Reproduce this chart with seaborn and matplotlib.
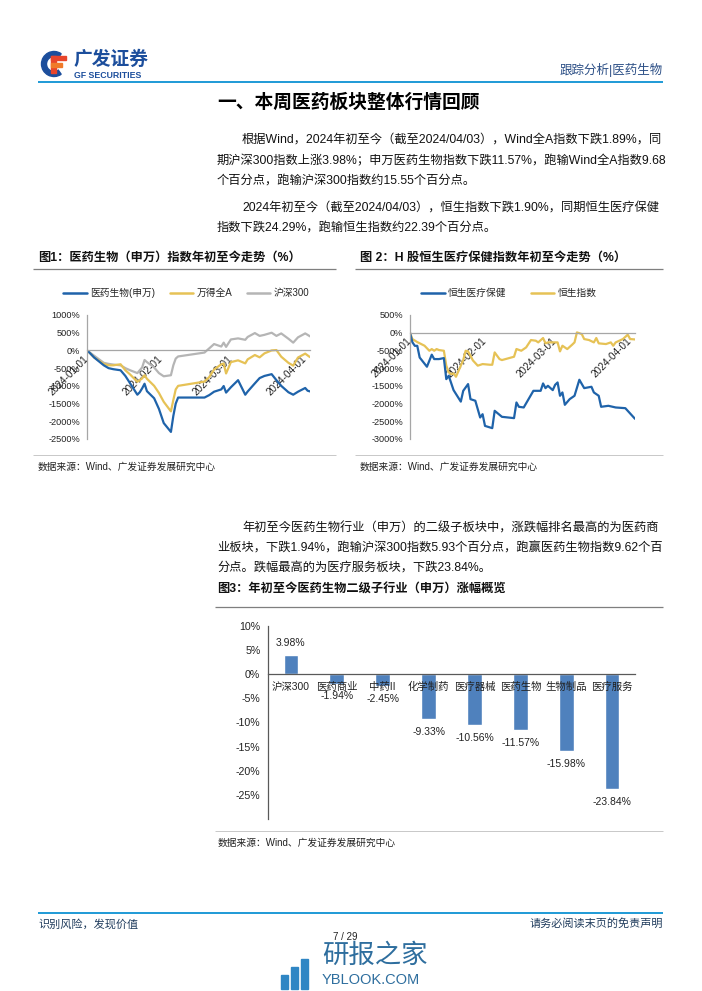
import numpy as np
import pandas as pd
import matplotlib
matplotlib.use("Agg")
import matplotlib.pyplot as plt
from matplotlib.lines import Line2D
from matplotlib.patches import Rectangle, Wedge
import seaborn as sns

sns.set_theme(style="white")
plt.rcParams['font.family'] = ['Liberation Sans', 'Noto Sans CJK SC', 'DejaVu Sans']
plt.rcParams['axes.unicode_minus'] = False

# ---------------- data ----------------
# Figure 1: A-share indices, YTD change (chart units as printed: 1000% == 10%)
dates1 = ["01-01", "01-02", "01-04", "01-08", "01-10", "01-12", "01-15", "01-17", "01-19",
          "01-22", "01-23", "01-24", "01-25", "01-26", "01-29", "01-31", "02-02", "02-05",
          "02-06", "02-07", "02-08", "02-19", "02-21", "02-23", "02-26", "02-27", "02-28",
          "03-01", "03-04", "03-07", "03-08", "03-11", "03-13", "03-15", "03-18", "03-20",
          "03-22", "03-25", "03-27", "03-29", "04-01", "04-02", "04-03"]
sw_med = [0, -60, -200, -420, -500, -530, -560, -720, -930, -1250, -1180, -1070, -940, -1150,
          -1350, -1650, -2050, -2300, -1850, -1500, -1330, -1330, -1260, -1165, -1100, -1005,
          -1190, -1040, -840, -1250, -1160, -930, -780, -720, -670, -840, -1000, -1180, -1250,
          -1165, -1060, -1137, -1157]
wind_a = [0, -60, -200, -380, -420, -420, -390, -560, -680, -885, -840, -790, -700, -800,
          -1000, -1200, -1450, -1720, -1400, -1100, -1000, -880, -750, -540, -390, -370, -650,
          -330, -280, -365, -252, -130, -195, -83, 0, 10, -177, -350, -430, -200, -90, -140,
          -189]
hs300 = [0, -50, -150, -350, -380, -400, -420, -500, -560, -640, -560, -480, -270, -330,
         -480, -640, -730, -700, -420, -230, -170, -60, 60, 180, 110, 220, 100, 310, 340, 300,
         380, 490, 410, 440, 500, 410, 480, 330, 220, 370, 480, 440, 398]
names1 = ["医药生物(申万)", "万得全A", "沪深300"]

# Figure 2: Hang Seng indices
dates2_hc = ["01-01", "01-02", "01-03", "01-04", "01-05", "01-08", "01-10", "01-11", "01-13",
             "01-15", "01-16", "01-17", "01-19", "01-22", "01-23", "01-25", "01-26", "01-28",
             "01-30", "01-31", "02-01", "02-04", "02-05", "02-08", "02-13", "02-14", "02-15",
             "02-17", "02-21", "02-24", "02-25", "02-26", "02-27", "02-29", "03-01", "03-02",
             "03-03", "03-04", "03-05", "03-07", "03-09", "03-11", "03-13", "03-16", "03-17",
             "03-19", "03-20", "03-23", "03-26", "03-30", "04-03"]
hs_health = [0, -270, -370, -370, -700, -960, -620, -744, -744, -716, -1310, -1215, -1620,
             -1945, -1640, -1450, -1875, -1920, -2393, -2300, -2630, -2694, -2204, -2374, -2411,
             -1969, -2091, -2110, -1640, -1640, -1432, -1564, -1498, -1620, -1470, -1404, -1780,
             -1686, -2035, -1875, -1780, -1328, -1564, -1526, -1686, -1780, -2091, -2063, -2110,
             -2130, -2430]
dates2_hsi = ["01-01", "01-02", "01-04", "01-07", "01-09", "01-10", "01-11", "01-12", "01-13",
              "01-15", "01-16", "01-17", "01-18", "01-19", "01-20", "01-22", "01-23", "01-24",
              "01-25", "01-26", "01-27", "01-29", "01-31", "02-03", "02-04", "02-05", "02-07",
              "02-08", "02-13", "02-14", "02-16", "02-18", "02-20", "02-22", "02-23", "02-25",
              "02-26", "02-27", "03-02", "03-03", "03-04", "03-06", "03-08", "03-09", "03-10",
              "03-12", "03-13", "03-15", "03-17", "03-18", "03-19", "03-22", "03-24", "03-25",
              "03-26", "03-29", "03-31", "04-01", "04-03"]
hsi = [0, -180, -264, -367, -509, -462, -509, -462, -490, -509, -930, -1118, -1168, -1150,
       -1243, -930, -772, -509, -528, -650, -782, -930, -885, -904, -904, -556, -744, -772,
       -678, -460, -509, -415, -207, -226, -273, -150, -300, -273, -273, -527, -367, -462,
       -339, -273, 9, -38, -179, -207, -273, -150, -300, -320, -273, -367, -273, -179, -56,
       -179, -190]
names2 = ["恒生医疗保健", "恒生指数"]

# Figure 3: SW sub-industries YTD change (%)
cats3 = ["沪深300", "医药商业", "中药II", "化学制药", "医疗器械", "医药生物", "生物制品", "医疗服务"]
vals3 = [3.98, -1.94, -2.45, -9.33, -10.56, -11.57, -15.98, -23.84]

date_ticks = ["2024-01-01", "2024-02-01", "2024-03-01", "2024-04-01"]

# ---------------- style ----------------
BLUE = "#1F63AA"
YELLOW = "#E6C256"
GRAY = "#B5B5B5"
BAR = "#4F81BD"
HEAD_BLUE = "#1E9AD6"
AXIS_GRAY = "#A6A6A6"

W, H = 702, 991
fig = plt.figure(figsize=(W / 100, H / 100), dpi=100)
fig.patch.set_facecolor("white")

# page canvas in pixel coordinates (for rules and logo shapes)
page = fig.add_axes([0, 0, 1, 1])
page.set_xlim(0, W)
page.set_ylim(H, 0)
page.axis("off")
page.set_zorder(-1)


def fx(x):
    return x / W


def fy(y):
    return 1 - y / H


def txt(x, y, s, **kw):
    kw.setdefault("va", "center")
    return fig.text(fx(x), fy(y), s, **kw)


def hline(x0, x1, y, color, lw):
    page.plot([x0, x1], [y, y], color=color, lw=lw, solid_capstyle="butt")


def add_ax(left, top, right, bottom):
    return fig.add_axes([fx(left), fy(bottom), (right - left) / W, (bottom - top) / H])


# ---------------- header ----------------
page.add_patch(Wedge((54, 64), 12.5, 55, 305, width=5, color="#1C4E9C"))
page.add_patch(Rectangle((51, 56), 4.5, 17, color="#E8452C"))
page.add_patch(Rectangle((51, 56), 15, 4, color="#E8452C"))
page.add_patch(Rectangle((51, 63), 11, 3.5, color="#F07A2A"))
txt(74, 59, "广发证券", fontsize=13.5, fontweight="bold", color="#1C4E9C",
    family=['Noto Sans CJK SC'])
txt(74, 75, "GF SECURITIES", fontsize=6.3, fontweight="bold", color="#1C4E9C")
txt(663, 70, "跟踪分析|医药生物", fontsize=9, color="#2C4F86", ha="right")
hline(38, 663, 82, HEAD_BLUE, 1.4)

# ---------------- body text ----------------
txt(217, 103, "一、本周医药板块整体行情回顾", fontsize=13.5, fontweight="bold", color="black")
BODY = dict(fontsize=8.8, color="#111111")
txt(242, 140, "根据Wind，2024年初至今（截至2024/04/03），Wind全A指数下跌1.89%，同", **BODY)
txt(217, 161, "期沪深300指数上涨3.98%；申万医药生物指数下跌11.57%，跑输Wind全A指数9.68", **BODY)
txt(217, 181, "个百分点，跑输沪深300指数约15.55个百分点。", **BODY)
txt(242, 208, "2024年初至今（截至2024/04/03），恒生指数下跌1.90%，同期恒生医疗保健", **BODY)
txt(217, 228, "指数下跌24.29%，跑输恒生指数约22.39个百分点。", **BODY)

txt(242, 528, "年初至今医药生物行业（申万）的二级子板块中，涨跌幅排名最高的为医药商", **BODY)
txt(217, 548, "业板块，下跌1.94%，跑输沪深300指数5.93个百分点，跑赢医药生物指数9.62个百", **BODY)
txt(217, 568, "分点。跌幅最高的为医疗服务板块，下跌23.84%。", **BODY)

# figure titles
TITLE = dict(fontsize=8.8, fontweight="bold", color="#111111")
txt(38, 258, "图1：医药生物（申万）指数年初至今走势（%）", **TITLE)
hline(33, 336, 269, "#7F7F7F", 0.9)
txt(360, 258, "图 2：H 股恒生医疗保健指数年初至今走势（%）", **TITLE)
hline(355, 663, 269, "#7F7F7F", 0.9)
txt(217, 590, "图3：年初至今医药生物二级子行业（申万）涨幅概览", **TITLE)
hline(215, 663, 607, "#7F7F7F", 0.9)

SRC = dict(fontsize=7, color="#222222")
hline(33, 336, 455, "#BFBFBF", 0.6)
hline(355, 663, 455, "#BFBFBF", 0.6)
txt(38, 467, "数据来源：Wind、广发证券发展研究中心", **SRC)
txt(360, 467, "数据来源：Wind、广发证券发展研究中心", **SRC)
hline(215, 663, 831, "#BFBFBF", 0.6)
txt(218, 843, "数据来源：Wind、广发证券发展研究中心", **SRC)


# ---------------- line charts ----------------
def style_line_ax(ax, ylo, yhi, step):
    # spine position must be set before ticks (it resets the tick objects)
    ax.spines["bottom"].set_position(("data", 0))
    for s in ["top", "right"]:
        ax.spines[s].set_visible(False)
    for s in ["bottom", "left"]:
        ax.spines[s].set_color(AXIS_GRAY)
        ax.spines[s].set_linewidth(0.9)
    ax.set_ylim(ylo, yhi)
    ax.set_xlim(pd.Timestamp("2024-01-01"), pd.Timestamp("2024-04-03"))
    ax.set_yticks(np.arange(ylo, yhi + 1, step))
    ax.set_yticklabels([f"{int(v)}%" for v in np.arange(ylo, yhi + 1, step)], fontsize=6.6)
    ax.set_xticks(pd.to_datetime(date_ticks))
    ax.set_xticklabels(date_ticks, fontsize=7.2, rotation=45, ha="right",
                       rotation_mode="anchor", va="center")
    ax.tick_params(axis="y", length=3, width=0.7, color=AXIS_GRAY, pad=2, direction="out",
                   labelcolor="#222222")
    ax.tick_params(axis="x", length=0, pad=5, labelcolor="#222222")
    ax.set_xlabel("")
    ax.set_ylabel("")
    ax.set_facecolor("none")


ax1 = add_ax(87, 315, 310, 439)
d1 = pd.to_datetime(["2024-" + d for d in dates1])
df1 = pd.DataFrame({"date": d1, names1[0]: sw_med, names1[1]: wind_a, names1[2]: hs300})
long1 = df1.melt("date", var_name="series", value_name="value")
sns.lineplot(data=long1, x="date", y="value", hue="series",
             hue_order=[names1[2], names1[1], names1[0]],
             palette=[GRAY, YELLOW, BLUE], lw=1.6, ax=ax1, legend=False)
style_line_ax(ax1, -2500, 1000, 500)
h1 = [Line2D([], [], color=c, lw=1.8) for c in [BLUE, YELLOW, GRAY]]
ax1.legend(h1, names1, loc="center", bbox_to_anchor=(0.445, 1.177), ncol=3, frameon=False,
           fontsize=7, handlelength=2.4, handletextpad=0.35, columnspacing=1.5)

ax2 = add_ax(410, 315, 635, 439)
df2a = pd.DataFrame({"date": pd.to_datetime(["2024-" + d for d in dates2_hc]),
                     "value": hs_health, "series": names2[0]})
df2b = pd.DataFrame({"date": pd.to_datetime(["2024-" + d for d in dates2_hsi]),
                     "value": hsi, "series": names2[1]})
long2 = pd.concat([df2b, df2a], ignore_index=True)
sns.lineplot(data=long2, x="date", y="value", hue="series",
             hue_order=[names2[1], names2[0]], palette=[YELLOW, BLUE], lw=1.6, ax=ax2,
             legend=False)
style_line_ax(ax2, -3000, 500, 500)
h2 = [Line2D([], [], color=c, lw=1.8) for c in [BLUE, YELLOW]]
ax2.legend(h2, names2, loc="center", bbox_to_anchor=(0.44, 1.177), ncol=2, frameon=False,
           fontsize=7, handlelength=2.4, handletextpad=0.35, columnspacing=2.5)

# ---------------- bar chart ----------------
ax3 = add_ax(268, 626, 635, 819)
df3 = pd.DataFrame({"cat": cats3, "val": vals3})
sns.barplot(data=df3, x="cat", y="val", color=BAR, width=0.32, saturation=1, ax=ax3)
ax3.set_axisbelow(False)
ax3.spines["bottom"].set_position(("data", 0))
for s in ["top", "right"]:
    ax3.spines[s].set_visible(False)
for s in ["bottom", "left"]:
    ax3.spines[s].set_color("#595959")
    ax3.spines[s].set_linewidth(0.9)
ax3.set_ylim(-30, 10)
ax3.set_xlim(-0.5, len(cats3) - 0.5)
yt = np.arange(-25, 11, 5)
ax3.set_yticks(yt)
ax3.set_yticklabels([f"{v}%" for v in yt], fontsize=7.7)
ax3.set_xticks(range(len(cats3)))
ax3.set_xticklabels(cats3, fontsize=7.5)
ax3.set_xticks(np.arange(-0.5, len(cats3), 1), minor=True)
ax3.tick_params(axis="x", which="major", length=0, pad=5.5, labelcolor="#222222")
ax3.tick_params(axis="x", which="minor", length=3.5, width=0.8, color="#595959",
                direction="out")
ax3.tick_params(axis="y", length=3.5, width=0.8, color="#595959", pad=2,
                labelcolor="#222222")
ax3.set_xlabel("")
ax3.set_ylabel("")
ax3.set_facecolor("none")
for i, v in enumerate(vals3):
    ax3.annotate(f"{v:.2f}%", (i, v), xytext=(0, 8.5 if v > 0 else -9),
                 textcoords="offset points", ha="center", va="center", fontsize=7.5,
                 color="#222222")

# ---------------- footer ----------------
hline(38, 663, 913, HEAD_BLUE, 1.4)
txt(38, 924, "识别风险，发现价值", fontsize=8, color="#1F3B5C")
txt(663, 924, "请务必阅读末页的免责声明", fontsize=8, color="#1F3B5C", ha="right")
txt(345, 937, "7 / 29", fontsize=7, color="#222222", ha="center")

# watermark
WM = "#2F86C4"
for k, hgt in enumerate([14, 22, 30]):
    page.add_patch(Rectangle((281 + k * 10, 989 - hgt), 7, hgt, color=WM))
txt(322, 955, "研报之家", fontsize=19, color="#2E6E9E", family=['Noto Sans CJK SC'])
txt(322, 980, "YBLOOK.COM", fontsize=10.5, color="#2E6E9E")

fig.savefig("out.png", dpi=100, facecolor="white")
